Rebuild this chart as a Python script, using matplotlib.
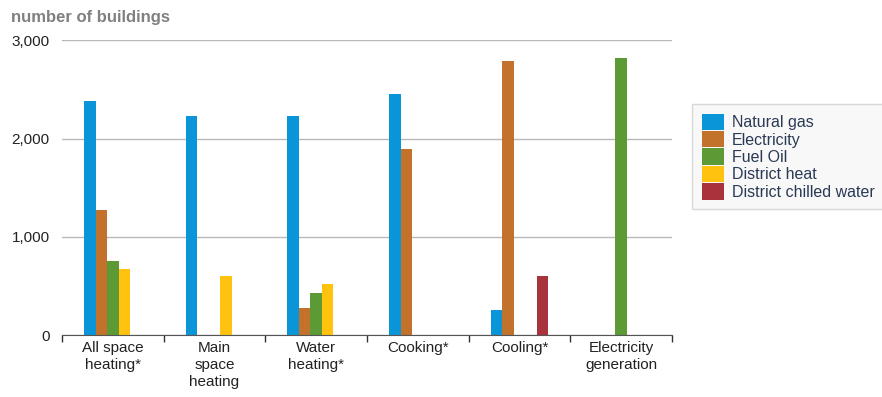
import numpy as np
import matplotlib.pyplot as plt
from matplotlib.ticker import FuncFormatter

plt.rcParams['font.family'] = ['Liberation Sans', 'DejaVu Sans']

categories = ["All space\nheating*", "Main\nspace\nheating", "Water\nheating*",
              "Cooking*", "Cooling*", "Electricity\ngeneration"]
series = ["Natural gas", "Electricity", "Fuel Oil", "District heat", "District chilled water"]
natural_gas = [2380, 2230, 2230, 2450, 258, 0]
electricity = [1270, 0, 272, 1900, 2790, 0]
fuel_oil = [755, 0, 425, 0, 0, 2820]
district_heat = [675, 600, 523, 0, 0, 0]
chilled_water = [0, 0, 0, 0, 600, 0]
values = [natural_gas, electricity, fuel_oil, district_heat, chilled_water]
colors = ["#0a95d8", "#c3722b", "#5b9a35", "#ffc20e", "#a9333c"]

fig = plt.figure(figsize=(8.82, 3.97), dpi=100)
ax = fig.add_axes([0.0703, 0.156, 0.6917, 0.742])

x = np.arange(len(categories))
w = 0.113
for i, (name, vals) in enumerate(zip(series, values)):
    ax.bar(x + (i - 2) * w, vals, width=w, color=colors[i], label=name, zorder=3)

ax.set_xlim(-0.5, len(categories) - 0.5)
ax.set_ylim(0, 3000)
ax.set_yticks([0, 1000, 2000, 3000])
ax.yaxis.set_major_formatter(FuncFormatter(lambda v, p: f"{int(v):,}"))
ax.yaxis.grid(True, color="#b8b8b8", linewidth=1, zorder=0)
ax.tick_params(axis="y", length=0, pad=9, labelsize=11, labelcolor="#222222")

ax.set_xticks(x)
ax.set_xticklabels(categories, fontsize=11, color="#222222", linespacing=1.3, va="top")
ax.tick_params(axis="x", which="major", length=0, pad=4)
ax.set_xticks(np.arange(-0.5, len(categories)), minor=True)
ax.tick_params(axis="x", which="minor", length=5, width=1, color="#333333", direction="out")

for s in ["left", "right", "top"]:
    ax.spines[s].set_visible(False)
ax.spines["bottom"].set_color("#555555")
ax.spines["bottom"].set_zorder(4)

fig.text(0.012, 0.957, "number of buildings", fontsize=12, fontweight="bold",
         color="#808080", va="center", ha="left")

leg = fig.legend(loc="upper left", bbox_to_anchor=(0.776, 0.758), frameon=True,
                 fontsize=11.5, handlelength=1.4, handleheight=1.2, handletextpad=0.45,
                 labelspacing=0.05, borderpad=0.6, fancybox=False)
leg.get_frame().set_facecolor("#f7f7f7")
leg.get_frame().set_edgecolor("#d0d0d0")
for t in leg.get_texts():
    t.set_color("#2a3a55")

fig.savefig("out.png", dpi=100)
